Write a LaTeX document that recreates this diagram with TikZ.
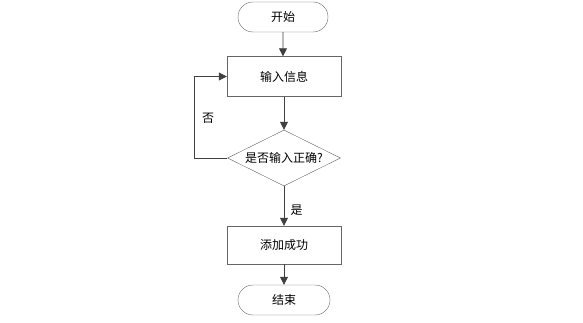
\documentclass[tikz,border=0pt]{standalone}
\usepackage{fontspec}
\setmainfont{Noto Sans CJK SC}
\usetikzlibrary{shapes.geometric,shapes.misc,arrows.meta}
\begin{document}
\begin{tikzpicture}[x=1pt,y=-1pt,
  every node/.style={font=\fontsize{12}{14}\selectfont, text=black},
  term/.style={draw=gray!80!black, rounded rectangle, minimum width=90pt, minimum height=30pt, inner sep=0pt, fill=white},
  procbox/.style={draw=gray!80!black, rectangle, minimum width=114pt, minimum height=40pt, inner sep=0pt, fill=white},
  decbox/.style={draw=gray!80!black, diamond, aspect=2.02, minimum width=113pt, minimum height=56pt, inner sep=0pt, fill=white},
  conn/.style={draw=black!75, line width=0.8pt, -{Triangle[length=8pt,width=8pt]}},
  lbl/.style={font=\fontsize{12}{14}\selectfont}
]
\useasboundingbox (0,0) rectangle (583,323);
\node[term] (start) at (283,17) {开始};
\node[procbox] (input) at (284,76.5) {输入信息};
\node[decbox] (check) at (284,158) {是否输入正确?};
\node[procbox, minimum height=38pt] (ok) at (284,245) {添加成功};
\node[term, minimum width=92pt] (end) at (284,300) {结束};
\coordinate (lp) at (194,158);
\coordinate (lq) at (194,76.5);
\draw[conn] (start) -- (start.south|-input.north);
\draw[conn] (input) -- (check);
\draw[conn] (check) -- node[lbl, right=3pt, pos=0.6] {是} (ok);
\draw[conn] (ok) -- (end);
\draw[conn] (check.west) -- (lp) -- (lq) -- (input.west);
\node[lbl] (no) at (208,118) {否};
\end{tikzpicture}
\end{document}
